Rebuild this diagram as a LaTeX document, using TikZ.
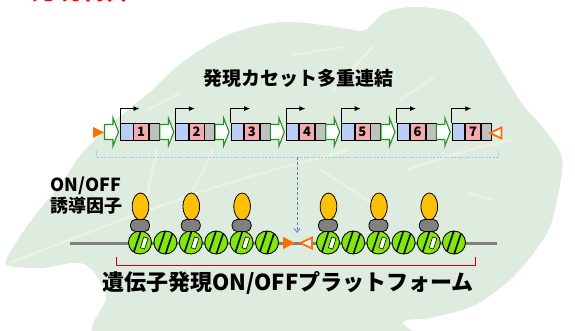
\documentclass[tikz,border=0pt]{standalone}
\usepackage{fontspec}
\newfontfamily\jp{Noto Sans CJK JP}
\usetikzlibrary{arrows.meta,calc}

\definecolor{leaf}{RGB}{221,236,222}
\definecolor{vein}{RGB}{240,245,226}
\definecolor{boxblue}{RGB}{185,205,245}
\definecolor{boxpink}{RGB}{245,170,172}
\definecolor{boxgray}{RGB}{192,192,192}
\definecolor{arrgreen}{RGB}{30,150,30}
\definecolor{tri}{RGB}{255,110,0}
\definecolor{nuc}{RGB}{128,235,0}
\definecolor{gold}{RGB}{255,192,0}
\definecolor{capgray}{RGB}{128,128,128}
\definecolor{dna}{RGB}{128,128,128}
\definecolor{guide}{RGB}{150,200,235}
\definecolor{pointer}{RGB}{80,130,200}
\definecolor{bracketred}{RGB}{225,0,0}

\tikzset{
  seg/.style={draw=black, line width=0.8pt, minimum height=17pt, inner sep=0pt, anchor=west},
  segblue/.style={seg, fill=boxblue, minimum width=12.5pt},
  segpink/.style={seg, fill=boxpink, minimum width=15pt, font=\jp\bfseries\fontsize{13}{13}\selectfont},
  seggray/.style={seg, fill=boxgray, minimum width=10pt},
  garrow/.style={draw=arrgreen, fill=white, line width=1.1pt, line join=miter},
  tss/.style={draw=black, line width=0.8pt, -{Latex[length=6pt,width=5pt]}},
  trifill/.style={fill=tri},
  triopen/.style={draw=tri, fill=white, line width=1.8pt, line join=miter},
  dnaline/.style={draw=dna, line width=3pt},
  nucleo/.style={draw=black, line width=0.9pt},
  stripe/.style={draw=black, line width=1.6pt},
  bead/.style={draw=black, fill=white, line width=0.6pt},
  factor/.style={draw=black, fill=gold, line width=0.8pt},
  factorcap/.style={draw=black, fill=capgray, line width=0.8pt},
  guideline/.style={draw=guide, line width=0.8pt, dash pattern=on 2pt off 1.5pt},
  pointerline/.style={draw=pointer, line width=0.8pt, dash pattern=on 3pt off 2pt, -{Straight Barb[length=4pt,width=6pt]}},
  redbracket/.style={draw=bracketred, line width=1pt},
  label/.style={font=\jp\bfseries, text=black, inner sep=0pt, align=center},
  veinline/.style={draw=vein, line width=2.5pt, opacity=0.75, line cap=round}
}

\begin{document}
\begin{tikzpicture}[x=1pt, y=-1pt]
\useasboundingbox (0,0) rectangle (575,331);
\clip (0,0) rectangle (575,331);

% leaf backdrop
\fill[leaf] plot[smooth cycle, tension=0.55] coordinates {
  (7,258) (30,222) (60,185) (83,152) (117,119) (150,92) (173,70) (200,50)
  (235,32) (282,22) (330,26) (362,31) (372,24) (386,12) (410,7) (440,9)
  (462,17) (483,40) (503,73) (523,105) (545,130) (562,158) (558,195)
  (547,233) (515,275) (475,305) (430,318) (403,322) (398,345) (112,345)
  (106,295) (84,264) (42,268) (10,266)};

% leaf veins
\draw[veinline] (12,262) .. controls (100,228) and (200,188) .. (300,163) .. controls (320,158) and (335,154) .. (347,150);
\draw[veinline] (157,150) .. controls (150,180) and (145,205) .. (140,232);
\draw[veinline] (213,150) .. controls (205,168) and (196,185) .. (187,200);
\draw[veinline] (320,170) .. controls (345,185) and (368,200) .. (390,217);
\draw[veinline] (467,193) -- (493,200);
\draw[veinline] (293,55) -- (343,47);
\draw[veinline] (373,47) .. controls (358,62) and (345,76) .. (333,90);
\draw[veinline] (433,78) -- (400,100);
\draw[veinline] (407,170) .. controls (440,158) and (475,148) .. (510,140);
\draw[veinline] (180,93) -- (147,110);

% heading running off the top edge
\node[label, text=red, font=\jp\bfseries\fontsize{25}{25}\selectfont] (heading) at (80,-10) {発現制御};

% title
\node[label, font=\jp\bfseries\fontsize{19}{19}\selectfont] (title) at (298,78) {発現カセット多重連結};

% cassette row
\def\yc{131.5}
\fill[trifill] (93,127) -- (104,132.5) -- (93,138) -- cycle;
\foreach \i in {1,...,7} {
  \pgfmathsetmacro{\bx}{120+(\i-1)*55.3}
  \draw[garrow] (\bx-15.5,\yc-7) -- (\bx-7,\yc-7) -- (\bx-7,\yc-13.5) -- (\bx-1.5,\yc+0.5)
        -- (\bx-7,\yc+14.5) -- (\bx-7,\yc+8) -- (\bx-15.5,\yc+8) -- cycle;
  \node[segblue] (blue-\i) at (\bx,\yc) {};
  \node[segpink] (pink-\i) at (blue-\i.east) {\i};
  \node[seggray] (gray-\i) at (pink-\i.east) {};
  \draw[tss] (blue-\i.north west) -- ++(0,-14) -- ++(19.5,0);
}
\draw[triopen] (490,133) -- (501.5,127.5) -- (501.5,138.5) -- cycle;

% bracket under the cassettes and the pointer into the platform
\coordinate (guideL) at (96,151);
\coordinate (guideR) at (498,151);
\coordinate (guidemid) at (297,157);
\coordinate (site) at (297,233);
\draw[guideline] (guideL) -- (guideL |- guidemid) -- (guideR |- guidemid) -- (guideR);
\draw[pointerline] (guidemid) -- (site);

% platform: DNA, nucleosomes and bound factors
\coordinate (dnaL) at (70,243);
\coordinate (dnaR) at (497,243);
\draw[dnaline] (dnaL) -- (dnaR);

\def\cy{242.5}
\foreach \cx/\marked in {140/1,165.4/0,190.8/1,216.2/0,241.6/1,267/0,
                         328/1,353.2/0,378.4/1,403.6/0,428.8/1,454/0} {
  \begin{scope}
    \fill[nuc] (\cx,\cy) circle (11.5);
    \clip (\cx,\cy) circle (11.5);
    \ifnum\marked=1
      \draw[stripe] (\cx-7,\cy+12) -- (\cx+1,\cy-12);
      \draw[bead] (\cx+8.0,\cy-4.2) -- (\cx+3.8,\cy-5.6) -- (\cx+0.4,\cy+5.2) -- (\cx+4.6,\cy+6.6) -- cycle;
    \else
      \draw[stripe] (\cx-8,\cy+12) -- (\cx,\cy-12);
      \draw[stripe] (\cx,\cy+12) -- (\cx+8,\cy-12);
    \fi
  \end{scope}
  \draw[nucleo] (\cx,\cy) circle (11.5);
  \ifnum\marked=1
    \draw[factor] (\cx+0.5,206.5) ellipse [x radius=8.3, y radius=13.5];
    \draw[factorcap, rounded corners=5pt] (\cx-9.5,231.5) -- (\cx-9.5,219.5) -- (\cx+9.5,219.5) -- (\cx+9.5,231.5) -- cycle;
  \fi
}

% recombination sites flanking the insertion point
\fill[trifill] (283,237) -- (295,243) -- (283,249) -- cycle;
\draw[triopen] (300.5,243) -- (312,237.5) -- (312,248.5) -- cycle;

% labels
\node[label, font=\jp\bfseries\fontsize{18}{21}\selectfont] (factorlabel) at (86,196) {ON/OFF\\誘導因子};

\coordinate (brL) at (116,257);
\coordinate (brR) at (475,257);
\draw[redbracket] (brL) -- ++(0,8) -- ($(brR)+(0,8)$) -- (brR);

\node[label, font=\jp\bfseries\fontsize{22}{22}\selectfont] (platform) at (288,283) {遺伝子発現ON/OFFプラットフォーム};

\end{tikzpicture}
\end{document}
